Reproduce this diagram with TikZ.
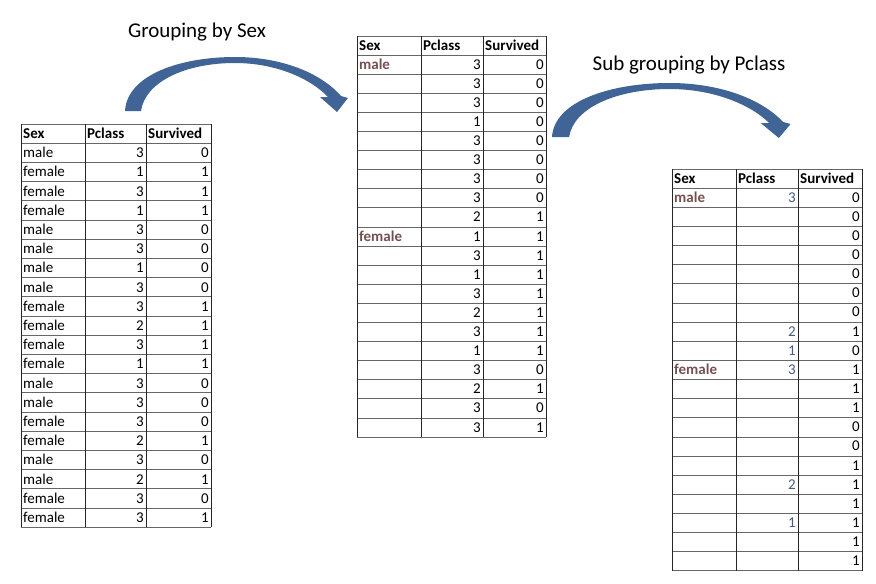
\documentclass[tikz,border=0pt]{standalone}
\usepackage{fontspec}
\setmainfont{Carlito}
\definecolor{arrowblue}{RGB}{63,100,149}
\definecolor{groupbrown}{RGB}{118,80,80}
\definecolor{classblue}{RGB}{72,90,128}
\tikzset{
  rowline/.style={draw=black!60,line width=0.9pt},
  colline/.style={draw=black!85,line width=0.9pt},
  datacell/.style={inner sep=0pt,anchor=base west,font=\fontsize{15}{15}\selectfont},
  numcell/.style={datacell,anchor=base east},
  headcell/.style={datacell,font=\fontsize{15}{15}\selectfont\bfseries},
  groupcell/.style={datacell,text=groupbrown,font=\fontsize{15}{15}\selectfont\bfseries},
  classcell/.style={numcell,text=classblue},
  heading/.style={inner sep=0pt,anchor=base,font=\fontsize{21}{21}\selectfont},
  grouparrow/.pic={\fill[arrowblue] (0,0) .. controls (2,-36) and (55,-54) .. (110,-54)
    .. controls (155,-54) and (195,-39) .. (216,-15) -- (223,-13) -- (212,1) -- (195,-14) -- (203,-14)
    .. controls (185,-33) and (150,-48) .. (110,-48) .. controls (60,-48) and (20,-29) .. (16,0) -- cycle;}
}
\newcommand\gridlines[6]{%
  \foreach \r in {0,...,21} \draw[rowline] (#1,{#5+#6*\r}) -- (#4,{#5+#6*\r});
  \foreach \c in {#1,#2,#3,#4} \draw[colline] (\c,#5) -- (\c,{#5+21*#6});
}

\begin{document}
\begin{tikzpicture}[x=1pt,y=-1pt]
\path[fill=white] (0,0) rectangle (876,584);
\useasboundingbox (0,0) rectangle (876,584);

\node[heading] (sexlabel) at (197,37) {Grouping by Sex};
\node[heading] (classlabel) at (689,70) {Sub grouping by Pclass};
\pic at (125,111) {grouparrow};
\pic[xscale=1.07] at (552,137) {grouparrow};

\gridlines{21}{85}{146}{211}{124}{19.2}
\node[headcell] (t1hsex) at (23,{124+14.5}) {Sex};
\node[headcell] (t1hpc) at (87,{124+14.5}) {Pclass};
\node[headcell] (t1hsv) at (148,{124+14.5}) {Survived};
\foreach \sx/\pc/\sv [count=\i] in {male/3/0,female/1/1,female/3/1,female/1/1,male/3/0,male/3/0,male/1/0,male/3/0,female/3/1,female/2/1,female/3/1,female/1/1,male/3/0,male/3/0,female/3/0,female/2/1,male/3/0,male/2/1,female/3/0,female/3/1} {
  \node[datacell] (t1s\i) at (23,{124+19.2*\i+14.5}) {\sx};
  \node[numcell] (t1p\i) at (144,{124+19.2*\i+14.5}) {\pc};
  \node[numcell] (t1v\i) at (209,{124+19.2*\i+14.5}) {\sv};
}

\gridlines{357}{421}{483}{546}{36}{19.1}
\node[headcell] (t2hsex) at (359,{36+14}) {Sex};
\node[headcell] (t2hpc) at (423,{36+14}) {Pclass};
\node[headcell] (t2hsv) at (485,{36+14}) {Survived};
\foreach \sx/\pc/\sv [count=\i] in {male/3/0,{}/3/0,{}/3/0,{}/1/0,{}/3/0,{}/3/0,{}/3/0,{}/3/0,{}/2/1,female/1/1,{}/3/1,{}/1/1,{}/3/1,{}/2/1,{}/3/1,{}/1/1,{}/3/0,{}/2/1,{}/3/0,{}/3/1} {
  \node[groupcell] (t2s\i) at (359,{36+19.1*\i+14}) {\sx};
  \node[numcell] (t2p\i) at (481,{36+19.1*\i+14}) {\pc};
  \node[numcell] (t2v\i) at (544,{36+19.1*\i+14}) {\sv};
}

\gridlines{672}{736}{798}{862}{169}{19.14}
\node[headcell] (t3hsex) at (674,{169+14}) {Sex};
\node[headcell] (t3hpc) at (738,{169+14}) {Pclass};
\node[headcell] (t3hsv) at (800,{169+14}) {Survived};
\foreach \sx/\pc/\sv [count=\i] in {male/3/0,{}/{}/0,{}/{}/0,{}/{}/0,{}/{}/0,{}/{}/0,{}/{}/0,{}/2/1,{}/1/0,female/3/1,{}/{}/1,{}/{}/1,{}/{}/0,{}/{}/0,{}/{}/1,{}/2/1,{}/{}/1,{}/1/1,{}/{}/1,{}/{}/1} {
  \node[groupcell] (t3s\i) at (674,{169+19.14*\i+14}) {\sx};
  \node[classcell] (t3p\i) at (796,{169+19.14*\i+14}) {\pc};
  \node[numcell] (t3v\i) at (860,{169+19.14*\i+14}) {\sv};
}
\end{tikzpicture}
\end{document}
